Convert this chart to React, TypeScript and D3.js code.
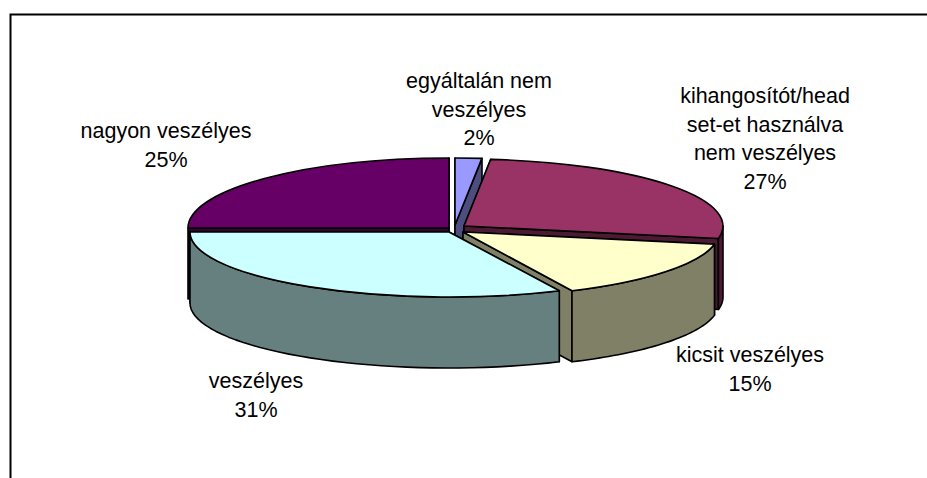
import React from 'react';
import * as d3 from 'd3';

const categories = [
  ['egyáltalán nem', 'veszélyes'],
  ['kihangosítót/head', 'set-et használva', 'nem veszélyes'],
  ['kicsit veszélyes'],
  ['veszélyes'],
  ['nagyon veszélyes'],
];
// percentages as printed on the labels
const percents = [2, 27, 15, 31, 25];
// the 3D view squeezes the angles a bit, so these are the shares as they look on the picture
const drawnShares = [1.65, 26.35, 15, 32, 25];

const topColors = ['#9999ff', '#993366', '#ffffcc', '#ccffff', '#660066'];
const sideColors = ['#4d4d80', '#4d1a33', '#808066', '#668080', '#330033'];

// each slice is pulled out on its own, centre and ellipse read per slice
const sliceBox = [
  { cx: 455, cy: 225, rx: 261, ry: 67 },
  { cx: 464, cy: 226, rx: 259, ry: 67 },
  { cx: 463, cy: 232, rx: 256, ry: 65 },
  { cx: 449, cy: 232, rx: 259, ry: 65 },
  { cx: 449, cy: 228, rx: 261, ry: 70 },
];
const labelPos = [
  { x: 479, y: 88 },
  { x: 765, y: 103 },
  { x: 750, y: 362 },
  { x: 256, y: 388 },
  { x: 166, y: 138 },
];
const depth = 71;
const drawOrder = [4, 0, 1, 2, 3];

const pie = d3.pie<number>().sort(null).value(d => d);
const arcs = pie(drawnShares);
const unitArc = d3.arc<d3.PieArcDatum<number>>().innerRadius(0).outerRadius(1);
const line = d3.line();

function rimPoints(i: number, a0: number, a1: number, dy = 0): [number, number][] {
  const b = sliceBox[i];
  return d3.range(41).map(k => {
    const a = a0 + ((a1 - a0) * k) / 40;
    return [b.cx + b.rx * Math.sin(a), b.cy + dy - b.ry * Math.cos(a)] as [number, number];
  });
}

// outer wall of the slice, only the part facing the viewer (bottom half of the ellipse)
function wallPath(i: number) {
  const a = arcs[i];
  const from = Math.max(a.startAngle, Math.PI / 2);
  const to = Math.min(a.endAngle, (Math.PI * 3) / 2);
  if (from >= to) return null;
  const top = rimPoints(i, from, to);
  const bottom = rimPoints(i, from, to, depth).reverse();
  return line([...top, ...bottom]) + 'Z';
}

// flat cut face between centre and rim at the given angle
function cutPath(i: number, angle: number) {
  const b = sliceBox[i];
  const [p] = rimPoints(i, angle, angle);
  return line([[b.cx, b.cy], p, [p[0], p[1] + depth], [b.cx, b.cy + depth]]) + 'Z';
}

export default function App() {
  const stroke = { stroke: '#000', strokeWidth: 1.6, strokeLinejoin: 'round' as const };
  return (
    <svg width={927} height={478} style={{ position: 'absolute', left: 0, top: 0 }}>
      <rect width={927} height={478} fill="#fff" />
      <path d="M10.5,478V14.5H927" fill="none" stroke="#000" strokeWidth={2} />
      {drawOrder.map(i => {
        const a = arcs[i];
        const b = sliceBox[i];
        const wall = wallPath(i);
        return (
          <g key={i}>
            <path d={cutPath(i, a.startAngle)} fill={sideColors[i]} {...stroke} />
            <path d={cutPath(i, a.endAngle)} fill={sideColors[i]} {...stroke} />
            {wall && <path d={wall} fill={sideColors[i]} {...stroke} />}
            <path
              d={unitArc(a) ?? ''}
              transform={`translate(${b.cx},${b.cy}) scale(${b.rx},${b.ry})`}
              fill={topColors[i]}
              vectorEffect="non-scaling-stroke"
              {...stroke}
            />
          </g>
        );
      })}
      {categories.map((lines, i) => (
        <text
          key={i}
          x={labelPos[i].x}
          y={labelPos[i].y}
          textAnchor="middle"
          fontFamily="Liberation Sans, Arial, sans-serif"
          fontSize={21.5}
          fill="#000"
        >
          {[...lines, `${percents[i]}%`].map((t, k) => (
            <tspan key={k} x={labelPos[i].x} dy={k === 0 ? 0 : 28.7}>
              {t}
            </tspan>
          ))}
        </text>
      ))}
    </svg>
  );
}
